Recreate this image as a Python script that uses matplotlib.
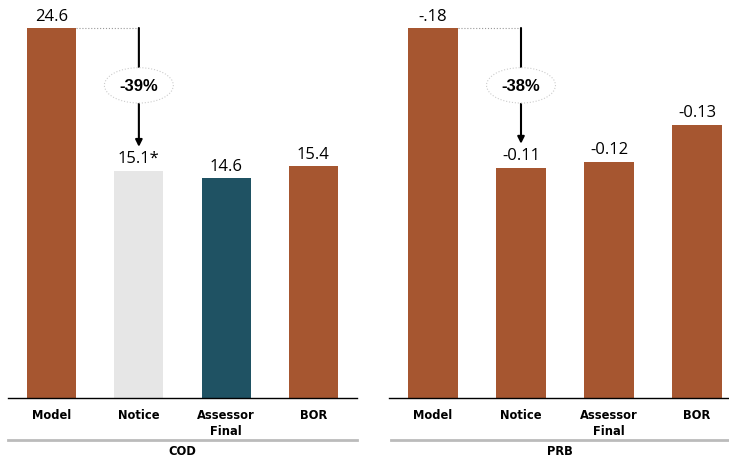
import matplotlib
matplotlib.use('Agg')
import matplotlib.pyplot as plt

# data
categories = ['Model', 'Notice', 'Assessor\nFinal', 'BOR']
cod_values = [24.6, 15.1, 14.6, 15.4]
cod_labels = ['24.6', '15.1*', '14.6', '15.4']
prb_values = [0.18, 0.112, 0.115, 0.133]   # magnitudes (PRB shown negative)
prb_labels = ['-.18', '-0.11', '-0.12', '-0.13']
cod_change = '-39%'
prb_change = '-38%'

brown = '#a65630'
teal = '#1f5263'
light = '#e6e6e6'
cod_colors = [brown, light, teal, brown]
prb_colors = [brown, brown, brown, brown]

W, H = 729, 460
fig = plt.figure(figsize=(W / 100, H / 100), dpi=100)


def px_axes(x0, x1, y_top, y_bot):
    return fig.add_axes([x0 / W, 1 - y_bot / H, (x1 - x0) / W, (y_bot - y_top) / H])


def panel(ax, values, labels, colors, title, change, title_x0, title_x1):
    x = range(len(values))
    top = max(values)
    ax.bar(x, values, width=0.56, color=colors, zorder=2)
    ax.set_xlim(-0.5, len(values) - 0.5)
    ax.set_ylim(0, top)
    for s in ['top', 'right', 'left']:
        ax.spines[s].set_visible(False)
    ax.spines['bottom'].set_color('black')
    ax.spines['bottom'].set_linewidth(1.0)
    ax.set_yticks([])
    ax.set_xticks(list(x))
    ax.set_xticklabels(categories, fontsize=8.3, fontweight='bold',
                       family='DejaVu Sans', linespacing=1.35, va='top')
    ax.tick_params(axis='x', length=0, pad=7)
    for i, (v, lab) in enumerate(zip(values, labels)):
        ax.text(i, v + top * 0.012, lab, ha='center', va='bottom',
                fontsize=12, family='Open Sans', clip_on=False)
    # dotted connector from the model bar to the arrow
    ax.plot([0.28, 1], [top, top], ls=':', color='#999999', lw=0.8,
            clip_on=False, zorder=1)
    ax.annotate('', xy=(1, values[1] + top * 0.065), xytext=(1, top),
                arrowprops=dict(arrowstyle='-|>', color='black', lw=1.5,
                                mutation_scale=10, shrinkA=0, shrinkB=0))
    ax.text(1, top * 0.845, change, ha='center', va='center', fontsize=12,
            fontweight='bold', family='Liberation Sans',
            bbox=dict(boxstyle='ellipse,pad=0.3', fc='white', ec='#cccccc',
                      ls=':', lw=0.8))
    # group line and title
    fig.add_artist(plt.Line2D([title_x0 / W, title_x1 / W], [1 - 441 / H] * 2,
                              color='#bbbbbb', lw=2))
    fig.text((title_x0 + title_x1) / 2 / W, 1 - 452 / H, title, ha='center',
             va='center', fontsize=8.3, fontweight='bold', family='DejaVu Sans')


ax1 = px_axes(8, 357, 29, 399)
panel(ax1, cod_values, cod_labels, cod_colors, 'COD', cod_change, 8, 357)

ax2 = px_axes(389, 741, 29, 399)
panel(ax2, prb_values, prb_labels, prb_colors, 'PRB', prb_change, 391, 729)

fig.savefig('out.png', dpi=100)
